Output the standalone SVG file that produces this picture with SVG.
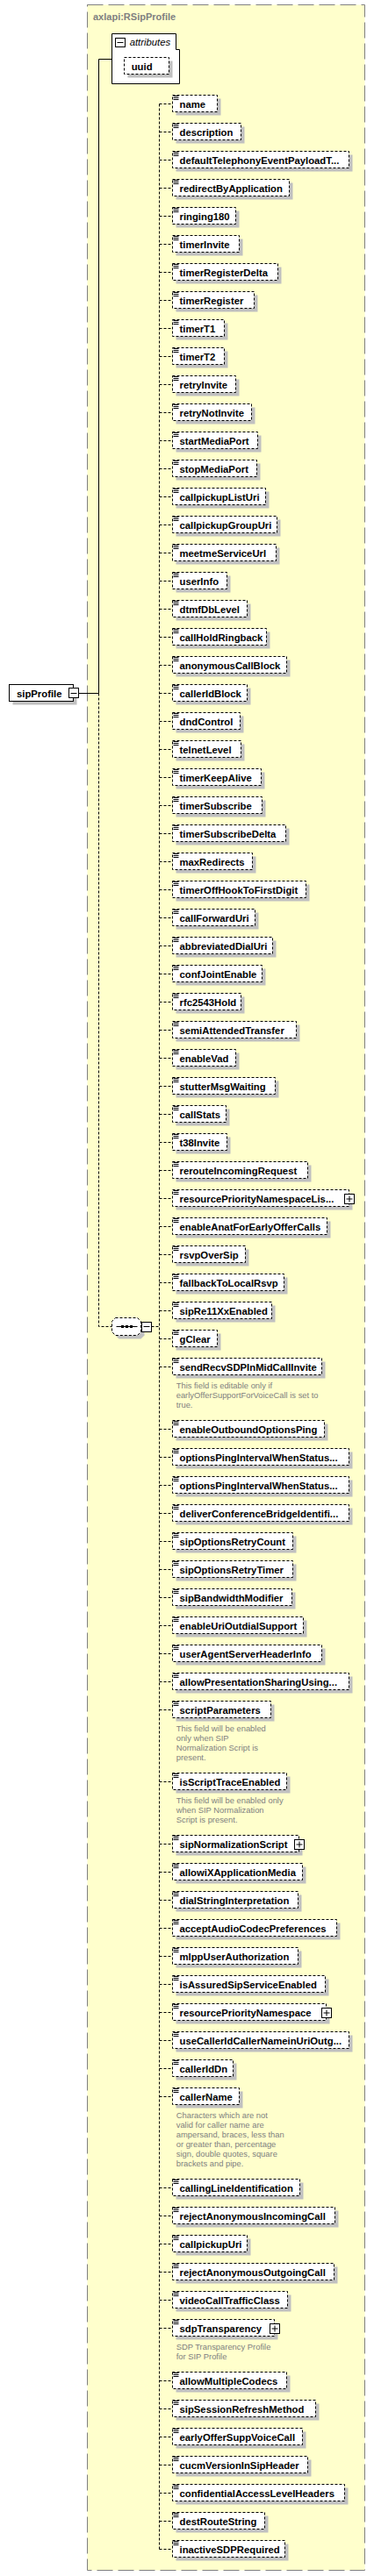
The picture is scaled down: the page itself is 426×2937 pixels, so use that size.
<svg xmlns="http://www.w3.org/2000/svg" width="426" height="2937" viewBox="0 0 426 2937">
<style>
.s{fill:#c0c0c0}
.b{fill:#fff;stroke:#000;stroke-dasharray:3 2}
.i{stroke:#000;fill:none}
.t{font-family:"Liberation Sans",Arial,sans-serif;font-weight:bold;font-size:11.3px;fill:#000}
.a{font-family:"Liberation Sans",Arial,sans-serif;font-size:9.4px;fill:#808080}
.c{fill:none;stroke:#000;stroke-dasharray:3 2}
.sl{fill:none;stroke:#000}
.bx{fill:#fff;stroke:#000}
</style>
<rect width="426" height="2937" fill="#fff"/>
<g id="type-container">
<rect x="99.5" y="5.5" width="316" height="2925" fill="#ffffcc" stroke="#808080" stroke-dasharray="18 6"/>
<text x="106" y="22.5" font-family="Liberation Sans, Arial, sans-serif" font-weight="bold" font-size="11px" fill="#808080">axlapi:RSipProfile</text>
</g>
<g id="connectors">
<path class="sl" d="M89.5 790.5H112.5M112.5 67.5V790.5M112.5 67.5H127.5"/>
<path class="c" d="M112.5 790.5V1512.5H127.5M172.5 1512.5H181.5"/>
<path class="c" d="M181.5 118.5V2906.5M181.5 118.5h15M181.5 150.5h15M181.5 182.5h15M181.5 214.5h15M181.5 246.5h15M181.5 278.5h15M181.5 310.5h15M181.5 342.5h15M181.5 374.5h15M181.5 406.5h15M181.5 438.5h15M181.5 470.5h15M181.5 502.5h15M181.5 534.5h15M181.5 566.5h15M181.5 598.5h15M181.5 630.5h15M181.5 662.5h15M181.5 694.5h15M181.5 726.5h15M181.5 758.5h15M181.5 790.5h15M181.5 822.5h15M181.5 854.5h15M181.5 886.5h15M181.5 918.5h15M181.5 950.5h15M181.5 982.5h15M181.5 1014.5h15M181.5 1046.5h15M181.5 1078.5h15M181.5 1110.5h15M181.5 1142.5h15M181.5 1174.5h15M181.5 1206.5h15M181.5 1238.5h15M181.5 1270.5h15M181.5 1302.5h15M181.5 1334.5h15M181.5 1366.5h15M181.5 1398.5h15M181.5 1430.5h15M181.5 1462.5h15M181.5 1494.5h15M181.5 1526.5h15M181.5 1558.5h15M181.5 1629.5h15M181.5 1661.5h15M181.5 1693.5h15M181.5 1725.5h15M181.5 1757.5h15M181.5 1789.5h15M181.5 1821.5h15M181.5 1853.5h15M181.5 1885.5h15M181.5 1917.5h15M181.5 1949.5h15M181.5 2031.5h15M181.5 2102.5h15M181.5 2134.5h15M181.5 2166.5h15M181.5 2198.5h15M181.5 2230.5h15M181.5 2262.5h15M181.5 2294.5h15M181.5 2326.5h15M181.5 2358.5h15M181.5 2390.5h15M181.5 2494.5h15M181.5 2526.5h15M181.5 2558.5h15M181.5 2590.5h15M181.5 2622.5h15M181.5 2654.5h15M181.5 2714.5h15M181.5 2746.5h15M181.5 2778.5h15M181.5 2810.5h15M181.5 2842.5h15M181.5 2874.5h15M181.5 2906.5h15"/>
</g>
<g id="sipProfile">
<rect class="s" x="14.5" y="784.5" width="73" height="19"/>
<rect class="bx" x="10.5" y="780.5" width="73" height="19"/>
<text class="t" x="19" y="794.5">sipProfile</text>
<rect class="bx" x="78.5" y="784.5" width="11" height="11"/>
<path class="sl" d="M80.5 790.5H87.5"/>
</g>
<g id="attributes">
<path class="bx" d="M127.5 38.5H200.5V56.5H204.5V95.5H127.5Z"/>
<rect class="bx" x="131.5" y="43.5" width="11" height="10"/>
<path class="sl" d="M133.5 48.5H140.5"/>
<text x="147.7" y="52" font-family="Liberation Sans, Arial, sans-serif" font-style="italic" font-size="11.3px">attributes</text>
</g>
<g id="uuid">
<rect class="s" x="145.5" y="69.5" width="51" height="19"/>
<rect class="b" x="141.5" y="65.5" width="51" height="19"/>
<text class="t" x="149.7" y="79.5">uuid</text>
</g>
<g id="sequence">
<path class="s" d="M135.5 1506.5H160.5L164.5 1510.5V1522.5L160.5 1526.5H135.5L131.5 1522.5V1510.5Z"/>
<path class="b" d="M131.5 1502.5H156.5L160.5 1506.5V1518.5L156.5 1522.5H131.5L127.5 1518.5V1506.5Z"/>
<path class="sl" d="M132.5 1512.5H156.5"/>
<rect x="138" y="1511" width="3" height="3"/>
<rect x="143" y="1511" width="3" height="3"/>
<rect x="148" y="1511" width="3" height="3"/>
<rect class="bx" x="161.5" y="1507.5" width="11" height="11"/>
<path class="sl" d="M163.5 1512.5H170.5"/>
</g>
<g id="e01" transform="translate(196.5,108.5)"><rect class="s" x="4" y="4" width="51" height="19"/><rect class="b" width="51" height="19"/><path class="i" d="M1 1h6M1 3h6M1 5h6"/><text class="t" x="8" y="14">name</text></g>
<g id="e02" transform="translate(196.5,140.5)"><rect class="s" x="4" y="4" width="78" height="19"/><rect class="b" width="78" height="19"/><path class="i" d="M1 1h6M1 3h6M1 5h6"/><text class="t" x="8" y="14">description</text></g>
<g id="e03" transform="translate(196.5,172.5)"><rect class="s" x="4" y="4" width="201" height="19"/><rect class="b" width="201" height="19"/><path class="i" d="M1 1h6M1 3h6M1 5h6"/><text class="t" x="8" y="14">defaultTelephonyEventPayloadT...</text></g>
<g id="e04" transform="translate(196.5,204.5)"><rect class="s" x="4" y="4" width="133" height="19"/><rect class="b" width="133" height="19"/><path class="i" d="M1 1h6M1 3h6M1 5h6"/><text class="t" x="8" y="14">redirectByApplication</text></g>
<g id="e05" transform="translate(196.5,236.5)"><rect class="s" x="4" y="4" width="72" height="19"/><rect class="b" width="72" height="19"/><path class="i" d="M1 1h6M1 3h6M1 5h6"/><text class="t" x="8" y="14">ringing180</text></g>
<g id="e06" transform="translate(196.5,268.5)"><rect class="s" x="4" y="4" width="76" height="19"/><rect class="b" width="76" height="19"/><path class="i" d="M1 1h6M1 3h6M1 5h6"/><text class="t" x="8" y="14">timerInvite</text></g>
<g id="e07" transform="translate(196.5,300.5)"><rect class="s" x="4" y="4" width="120" height="19"/><rect class="b" width="120" height="19"/><path class="i" d="M1 1h6M1 3h6M1 5h6"/><text class="t" x="8" y="14">timerRegisterDelta</text></g>
<g id="e08" transform="translate(196.5,332.5)"><rect class="s" x="4" y="4" width="93" height="19"/><rect class="b" width="93" height="19"/><path class="i" d="M1 1h6M1 3h6M1 5h6"/><text class="t" x="8" y="14">timerRegister</text></g>
<g id="e09" transform="translate(196.5,364.5)"><rect class="s" x="4" y="4" width="59" height="19"/><rect class="b" width="59" height="19"/><path class="i" d="M1 1h6M1 3h6M1 5h6"/><text class="t" x="8" y="14">timerT1</text></g>
<g id="e10" transform="translate(196.5,396.5)"><rect class="s" x="4" y="4" width="59" height="19"/><rect class="b" width="59" height="19"/><path class="i" d="M1 1h6M1 3h6M1 5h6"/><text class="t" x="8" y="14">timerT2</text></g>
<g id="e11" transform="translate(196.5,428.5)"><rect class="s" x="4" y="4" width="72" height="19"/><rect class="b" width="72" height="19"/><path class="i" d="M1 1h6M1 3h6M1 5h6"/><text class="t" x="8" y="14">retryInvite</text></g>
<g id="e12" transform="translate(196.5,460.5)"><rect class="s" x="4" y="4" width="90" height="19"/><rect class="b" width="90" height="19"/><path class="i" d="M1 1h6M1 3h6M1 5h6"/><text class="t" x="8" y="14">retryNotInvite</text></g>
<g id="e13" transform="translate(196.5,492.5)"><rect class="s" x="4" y="4" width="97" height="19"/><rect class="b" width="97" height="19"/><path class="i" d="M1 1h6M1 3h6M1 5h6"/><text class="t" x="8" y="14">startMediaPort</text></g>
<g id="e14" transform="translate(196.5,524.5)"><rect class="s" x="4" y="4" width="96" height="19"/><rect class="b" width="96" height="19"/><path class="i" d="M1 1h6M1 3h6M1 5h6"/><text class="t" x="8" y="14">stopMediaPort</text></g>
<g id="e15" transform="translate(196.5,556.5)"><rect class="s" x="4" y="4" width="106" height="19"/><rect class="b" width="106" height="19"/><path class="i" d="M1 1h6M1 3h6M1 5h6"/><text class="t" x="8" y="14">callpickupListUri</text></g>
<g id="e16" transform="translate(196.5,588.5)"><rect class="s" x="4" y="4" width="119" height="19"/><rect class="b" width="119" height="19"/><path class="i" d="M1 1h6M1 3h6M1 5h6"/><text class="t" x="8" y="14">callpickupGroupUri</text></g>
<g id="e17" transform="translate(196.5,620.5)"><rect class="s" x="4" y="4" width="118" height="19"/><rect class="b" width="118" height="19"/><path class="i" d="M1 1h6M1 3h6M1 5h6"/><text class="t" x="8" y="14">meetmeServiceUrl</text></g>
<g id="e18" transform="translate(196.5,652.5)"><rect class="s" x="4" y="4" width="62" height="19"/><rect class="b" width="62" height="19"/><path class="i" d="M1 1h6M1 3h6M1 5h6"/><text class="t" x="8" y="14">userInfo</text></g>
<g id="e19" transform="translate(196.5,684.5)"><rect class="s" x="4" y="4" width="85" height="19"/><rect class="b" width="85" height="19"/><path class="i" d="M1 1h6M1 3h6M1 5h6"/><text class="t" x="8" y="14">dtmfDbLevel</text></g>
<g id="e20" transform="translate(196.5,716.5)"><rect class="s" x="4" y="4" width="107" height="19"/><rect class="b" width="107" height="19"/><path class="i" d="M1 1h6M1 3h6M1 5h6"/><text class="t" x="8" y="14">callHoldRingback</text></g>
<g id="e21" transform="translate(196.5,748.5)"><rect class="s" x="4" y="4" width="130" height="19"/><rect class="b" width="130" height="19"/><path class="i" d="M1 1h6M1 3h6M1 5h6"/><text class="t" x="8" y="14">anonymousCallBlock</text></g>
<g id="e22" transform="translate(196.5,780.5)"><rect class="s" x="4" y="4" width="85" height="19"/><rect class="b" width="85" height="19"/><path class="i" d="M1 1h6M1 3h6M1 5h6"/><text class="t" x="8" y="14">callerIdBlock</text></g>
<g id="e23" transform="translate(196.5,812.5)"><rect class="s" x="4" y="4" width="77" height="19"/><rect class="b" width="77" height="19"/><path class="i" d="M1 1h6M1 3h6M1 5h6"/><text class="t" x="8" y="14">dndControl</text></g>
<g id="e24" transform="translate(196.5,844.5)"><rect class="s" x="4" y="4" width="78" height="19"/><rect class="b" width="78" height="19"/><path class="i" d="M1 1h6M1 3h6M1 5h6"/><text class="t" x="8" y="14">telnetLevel</text></g>
<g id="e25" transform="translate(196.5,876.5)"><rect class="s" x="4" y="4" width="101" height="19"/><rect class="b" width="101" height="19"/><path class="i" d="M1 1h6M1 3h6M1 5h6"/><text class="t" x="8" y="14">timerKeepAlive</text></g>
<g id="e26" transform="translate(196.5,908.5)"><rect class="s" x="4" y="4" width="102" height="19"/><rect class="b" width="102" height="19"/><path class="i" d="M1 1h6M1 3h6M1 5h6"/><text class="t" x="8" y="14">timerSubscribe</text></g>
<g id="e27" transform="translate(196.5,940.5)"><rect class="s" x="4" y="4" width="129" height="19"/><rect class="b" width="129" height="19"/><path class="i" d="M1 1h6M1 3h6M1 5h6"/><text class="t" x="8" y="14">timerSubscribeDelta</text></g>
<g id="e28" transform="translate(196.5,972.5)"><rect class="s" x="4" y="4" width="91" height="19"/><rect class="b" width="91" height="19"/><path class="i" d="M1 1h6M1 3h6M1 5h6"/><text class="t" x="8" y="14">maxRedirects</text></g>
<g id="e29" transform="translate(196.5,1004.5)"><rect class="s" x="4" y="4" width="152" height="19"/><rect class="b" width="152" height="19"/><path class="i" d="M1 1h6M1 3h6M1 5h6"/><text class="t" x="8" y="14">timerOffHookToFirstDigit</text></g>
<g id="e30" transform="translate(196.5,1036.5)"><rect class="s" x="4" y="4" width="94" height="19"/><rect class="b" width="94" height="19"/><path class="i" d="M1 1h6M1 3h6M1 5h6"/><text class="t" x="8" y="14">callForwardUri</text></g>
<g id="e31" transform="translate(196.5,1068.5)"><rect class="s" x="4" y="4" width="114" height="19"/><rect class="b" width="114" height="19"/><path class="i" d="M1 1h6M1 3h6M1 5h6"/><text class="t" x="8" y="14">abbreviatedDialUri</text></g>
<g id="e32" transform="translate(196.5,1100.5)"><rect class="s" x="4" y="4" width="102" height="19"/><rect class="b" width="102" height="19"/><path class="i" d="M1 1h6M1 3h6M1 5h6"/><text class="t" x="8" y="14">confJointEnable</text></g>
<g id="e33" transform="translate(196.5,1132.5)"><rect class="s" x="4" y="4" width="78" height="19"/><rect class="b" width="78" height="19"/><path class="i" d="M1 1h6M1 3h6M1 5h6"/><text class="t" x="8" y="14">rfc2543Hold</text></g>
<g id="e34" transform="translate(196.5,1164.5)"><rect class="s" x="4" y="4" width="141" height="19"/><rect class="b" width="141" height="19"/><path class="i" d="M1 1h6M1 3h6M1 5h6"/><text class="t" x="8" y="14">semiAttendedTransfer</text></g>
<g id="e35" transform="translate(196.5,1196.5)"><rect class="s" x="4" y="4" width="72" height="19"/><rect class="b" width="72" height="19"/><path class="i" d="M1 1h6M1 3h6M1 5h6"/><text class="t" x="8" y="14">enableVad</text></g>
<g id="e36" transform="translate(196.5,1228.5)"><rect class="s" x="4" y="4" width="117" height="19"/><rect class="b" width="117" height="19"/><path class="i" d="M1 1h6M1 3h6M1 5h6"/><text class="t" x="8" y="14">stutterMsgWaiting</text></g>
<g id="e37" transform="translate(196.5,1260.5)"><rect class="s" x="4" y="4" width="61" height="19"/><rect class="b" width="61" height="19"/><path class="i" d="M1 1h6M1 3h6M1 5h6"/><text class="t" x="8" y="14">callStats</text></g>
<g id="e38" transform="translate(196.5,1292.5)"><rect class="s" x="4" y="4" width="62" height="19"/><rect class="b" width="62" height="19"/><path class="i" d="M1 1h6M1 3h6M1 5h6"/><text class="t" x="8" y="14">t38Invite</text></g>
<g id="e39" transform="translate(196.5,1324.5)"><rect class="s" x="4" y="4" width="154" height="19"/><rect class="b" width="154" height="19"/><path class="i" d="M1 1h6M1 3h6M1 5h6"/><text class="t" x="8" y="14">rerouteIncomingRequest</text></g>
<g id="e40" transform="translate(196.5,1356.5)"><rect class="s" x="4" y="4" width="201" height="19"/><rect class="b" width="201" height="19"/><path class="i" d="M1 1h6M1 3h6M1 5h6"/><text class="t" x="8" y="14">resourcePriorityNamespaceLis...</text><rect class="bx" x="196" y="5" width="11" height="11"/><path class="sl" d="M198 10.5h7M201.5 7v7"/></g>
<g id="e41" transform="translate(196.5,1388.5)"><rect class="s" x="4" y="4" width="176" height="19"/><rect class="b" width="176" height="19"/><path class="i" d="M1 1h6M1 3h6M1 5h6"/><text class="t" x="8" y="14">enableAnatForEarlyOfferCalls</text></g>
<g id="e42" transform="translate(196.5,1420.5)"><rect class="s" x="4" y="4" width="83" height="19"/><rect class="b" width="83" height="19"/><path class="i" d="M1 1h6M1 3h6M1 5h6"/><text class="t" x="8" y="14">rsvpOverSip</text></g>
<g id="e43" transform="translate(196.5,1452.5)"><rect class="s" x="4" y="4" width="127" height="19"/><rect class="b" width="127" height="19"/><path class="i" d="M1 1h6M1 3h6M1 5h6"/><text class="t" x="8" y="14">fallbackToLocalRsvp</text></g>
<g id="e44" transform="translate(196.5,1484.5)"><rect class="s" x="4" y="4" width="113" height="19"/><rect class="b" width="113" height="19"/><path class="i" d="M1 1h6M1 3h6M1 5h6"/><text class="t" x="8" y="14">sipRe11XxEnabled</text></g>
<g id="e45" transform="translate(196.5,1516.5)"><rect class="s" x="4" y="4" width="51" height="19"/><rect class="b" width="51" height="19"/><path class="i" d="M1 1h6M1 3h6M1 5h6"/><text class="t" x="8" y="14">gClear</text></g>
<g id="e46" transform="translate(196.5,1548.5)"><rect class="s" x="4" y="4" width="170" height="19"/><rect class="b" width="170" height="19"/><path class="i" d="M1 1h6M1 3h6M1 5h6"/><text class="t" x="8" y="14">sendRecvSDPInMidCallInvite</text><text class="a" x="4.2" y="34">This field is editable only if</text><text class="a" x="4.2" y="45">earlyOfferSupportForVoiceCall is set to</text><text class="a" x="4.2" y="56">true.</text></g>
<g id="e47" transform="translate(196.5,1619.5)"><rect class="s" x="4" y="4" width="173" height="19"/><rect class="b" width="173" height="19"/><path class="i" d="M1 1h6M1 3h6M1 5h6"/><text class="t" x="8" y="14">enableOutboundOptionsPing</text></g>
<g id="e48" transform="translate(196.5,1651.5)"><rect class="s" x="4" y="4" width="201" height="19"/><rect class="b" width="201" height="19"/><path class="i" d="M1 1h6M1 3h6M1 5h6"/><text class="t" x="8" y="14">optionsPingIntervalWhenStatus...</text></g>
<g id="e49" transform="translate(196.5,1683.5)"><rect class="s" x="4" y="4" width="201" height="19"/><rect class="b" width="201" height="19"/><path class="i" d="M1 1h6M1 3h6M1 5h6"/><text class="t" x="8" y="14">optionsPingIntervalWhenStatus...</text></g>
<g id="e50" transform="translate(196.5,1715.5)"><rect class="s" x="4" y="4" width="201" height="19"/><rect class="b" width="201" height="19"/><path class="i" d="M1 1h6M1 3h6M1 5h6"/><text class="t" x="8" y="14">deliverConferenceBridgeIdentifi...</text></g>
<g id="e51" transform="translate(196.5,1747.5)"><rect class="s" x="4" y="4" width="137" height="19"/><rect class="b" width="137" height="19"/><path class="i" d="M1 1h6M1 3h6M1 5h6"/><text class="t" x="8" y="14">sipOptionsRetryCount</text></g>
<g id="e52" transform="translate(196.5,1779.5)"><rect class="s" x="4" y="4" width="137" height="19"/><rect class="b" width="137" height="19"/><path class="i" d="M1 1h6M1 3h6M1 5h6"/><text class="t" x="8" y="14">sipOptionsRetryTimer</text></g>
<g id="e53" transform="translate(196.5,1811.5)"><rect class="s" x="4" y="4" width="136" height="19"/><rect class="b" width="136" height="19"/><path class="i" d="M1 1h6M1 3h6M1 5h6"/><text class="t" x="8" y="14">sipBandwidthModifier</text></g>
<g id="e54" transform="translate(196.5,1843.5)"><rect class="s" x="4" y="4" width="149" height="19"/><rect class="b" width="149" height="19"/><path class="i" d="M1 1h6M1 3h6M1 5h6"/><text class="t" x="8" y="14">enableUriOutdialSupport</text></g>
<g id="e55" transform="translate(196.5,1875.5)"><rect class="s" x="4" y="4" width="170" height="19"/><rect class="b" width="170" height="19"/><path class="i" d="M1 1h6M1 3h6M1 5h6"/><text class="t" x="8" y="14">userAgentServerHeaderInfo</text></g>
<g id="e56" transform="translate(196.5,1907.5)"><rect class="s" x="4" y="4" width="201" height="19"/><rect class="b" width="201" height="19"/><path class="i" d="M1 1h6M1 3h6M1 5h6"/><text class="t" x="8" y="14">allowPresentationSharingUsing...</text></g>
<g id="e57" transform="translate(196.5,1939.5)"><rect class="s" x="4" y="4" width="112" height="19"/><rect class="b" width="112" height="19"/><path class="i" d="M1 1h6M1 3h6M1 5h6"/><text class="t" x="8" y="14">scriptParameters</text><text class="a" x="4.2" y="34">This field will be enabled</text><text class="a" x="4.2" y="45">only when SIP</text><text class="a" x="4.2" y="56">Normalization Script is</text><text class="a" x="4.2" y="67">present.</text></g>
<g id="e58" transform="translate(196.5,2021.5)"><rect class="s" x="4" y="4" width="130" height="19"/><rect class="b" width="130" height="19"/><path class="i" d="M1 1h6M1 3h6M1 5h6"/><text class="t" x="8" y="14">isScriptTraceEnabled</text><text class="a" x="4.2" y="34">This field will be enabled only</text><text class="a" x="4.2" y="45">when SIP Normalization</text><text class="a" x="4.2" y="56">Script is present.</text></g>
<g id="e59" transform="translate(196.5,2092.5)"><rect class="s" x="4" y="4" width="144" height="19"/><rect class="b" width="144" height="19"/><path class="i" d="M1 1h6M1 3h6M1 5h6"/><text class="t" x="8" y="14">sipNormalizationScript</text><rect class="bx" x="139" y="5" width="11" height="11"/><path class="sl" d="M141 10.5h7M144.5 7v7"/></g>
<g id="e60" transform="translate(196.5,2124.5)"><rect class="s" x="4" y="4" width="148" height="19"/><rect class="b" width="148" height="19"/><path class="i" d="M1 1h6M1 3h6M1 5h6"/><text class="t" x="8" y="14">allowiXApplicationMedia</text></g>
<g id="e61" transform="translate(196.5,2156.5)"><rect class="s" x="4" y="4" width="143" height="19"/><rect class="b" width="143" height="19"/><path class="i" d="M1 1h6M1 3h6M1 5h6"/><text class="t" x="8" y="14">dialStringInterpretation</text></g>
<g id="e62" transform="translate(196.5,2188.5)"><rect class="s" x="4" y="4" width="187" height="19"/><rect class="b" width="187" height="19"/><path class="i" d="M1 1h6M1 3h6M1 5h6"/><text class="t" x="8" y="14">acceptAudioCodecPreferences</text></g>
<g id="e63" transform="translate(196.5,2220.5)"><rect class="s" x="4" y="4" width="143" height="19"/><rect class="b" width="143" height="19"/><path class="i" d="M1 1h6M1 3h6M1 5h6"/><text class="t" x="8" y="14">mlppUserAuthorization</text></g>
<g id="e64" transform="translate(196.5,2252.5)"><rect class="s" x="4" y="4" width="174" height="19"/><rect class="b" width="174" height="19"/><path class="i" d="M1 1h6M1 3h6M1 5h6"/><text class="t" x="8" y="14">isAssuredSipServiceEnabled</text></g>
<g id="e65" transform="translate(196.5,2284.5)"><rect class="s" x="4" y="4" width="175" height="19"/><rect class="b" width="175" height="19"/><path class="i" d="M1 1h6M1 3h6M1 5h6"/><text class="t" x="8" y="14">resourcePriorityNamespace</text><rect class="bx" x="170" y="5" width="11" height="11"/><path class="sl" d="M172 10.5h7M175.5 7v7"/></g>
<g id="e66" transform="translate(196.5,2316.5)"><rect class="s" x="4" y="4" width="201" height="19"/><rect class="b" width="201" height="19"/><path class="i" d="M1 1h6M1 3h6M1 5h6"/><text class="t" x="8" y="14">useCallerIdCallerNameinUriOutg...</text></g>
<g id="e67" transform="translate(196.5,2348.5)"><rect class="s" x="4" y="4" width="69" height="19"/><rect class="b" width="69" height="19"/><path class="i" d="M1 1h6M1 3h6M1 5h6"/><text class="t" x="8" y="14">callerIdDn</text></g>
<g id="e68" transform="translate(196.5,2380.5)"><rect class="s" x="4" y="4" width="76" height="19"/><rect class="b" width="76" height="19"/><path class="i" d="M1 1h6M1 3h6M1 5h6"/><text class="t" x="8" y="14">callerName</text><text class="a" x="4.2" y="34">Characters which are not</text><text class="a" x="4.2" y="45">valid for caller name are</text><text class="a" x="4.2" y="56">ampersand, braces, less than</text><text class="a" x="4.2" y="67">or greater than, percentage</text><text class="a" x="4.2" y="78">sign, double quotes, square</text><text class="a" x="4.2" y="89">brackets and pipe.</text></g>
<g id="e69" transform="translate(196.5,2484.5)"><rect class="s" x="4" y="4" width="145" height="19"/><rect class="b" width="145" height="19"/><path class="i" d="M1 1h6M1 3h6M1 5h6"/><text class="t" x="8" y="14">callingLineIdentification</text></g>
<g id="e70" transform="translate(196.5,2516.5)"><rect class="s" x="4" y="4" width="185" height="19"/><rect class="b" width="185" height="19"/><path class="i" d="M1 1h6M1 3h6M1 5h6"/><text class="t" x="8" y="14">rejectAnonymousIncomingCall</text></g>
<g id="e71" transform="translate(196.5,2548.5)"><rect class="s" x="4" y="4" width="85" height="19"/><rect class="b" width="85" height="19"/><path class="i" d="M1 1h6M1 3h6M1 5h6"/><text class="t" x="8" y="14">callpickupUri</text></g>
<g id="e72" transform="translate(196.5,2580.5)"><rect class="s" x="4" y="4" width="184" height="19"/><rect class="b" width="184" height="19"/><path class="i" d="M1 1h6M1 3h6M1 5h6"/><text class="t" x="8" y="14">rejectAnonymousOutgoingCall</text></g>
<g id="e73" transform="translate(196.5,2612.5)"><rect class="s" x="4" y="4" width="131" height="19"/><rect class="b" width="131" height="19"/><path class="i" d="M1 1h6M1 3h6M1 5h6"/><text class="t" x="8" y="14">videoCallTrafficClass</text></g>
<g id="e74" transform="translate(196.5,2644.5)"><rect class="s" x="4" y="4" width="116" height="19"/><rect class="b" width="116" height="19"/><path class="i" d="M1 1h6M1 3h6M1 5h6"/><text class="t" x="8" y="14">sdpTransparency</text><rect class="bx" x="111" y="5" width="11" height="11"/><path class="sl" d="M113 10.5h7M116.5 7v7"/><text class="a" x="4.2" y="34">SDP Transparency Profile</text><text class="a" x="4.2" y="45">for SIP Profile</text></g>
<g id="e75" transform="translate(196.5,2704.5)"><rect class="s" x="4" y="4" width="130" height="19"/><rect class="b" width="130" height="19"/><path class="i" d="M1 1h6M1 3h6M1 5h6"/><text class="t" x="8" y="14">allowMultipleCodecs</text></g>
<g id="e76" transform="translate(196.5,2736.5)"><rect class="s" x="4" y="4" width="163" height="19"/><rect class="b" width="163" height="19"/><path class="i" d="M1 1h6M1 3h6M1 5h6"/><text class="t" x="8" y="14">sipSessionRefreshMethod</text></g>
<g id="e77" transform="translate(196.5,2768.5)"><rect class="s" x="4" y="4" width="148" height="19"/><rect class="b" width="148" height="19"/><path class="i" d="M1 1h6M1 3h6M1 5h6"/><text class="t" x="8" y="14">earlyOfferSuppVoiceCall</text></g>
<g id="e78" transform="translate(196.5,2800.5)"><rect class="s" x="4" y="4" width="154" height="19"/><rect class="b" width="154" height="19"/><path class="i" d="M1 1h6M1 3h6M1 5h6"/><text class="t" x="8" y="14">cucmVersionInSipHeader</text></g>
<g id="e79" transform="translate(196.5,2832.5)"><rect class="s" x="4" y="4" width="196" height="19"/><rect class="b" width="196" height="19"/><path class="i" d="M1 1h6M1 3h6M1 5h6"/><text class="t" x="8" y="14">confidentialAccessLevelHeaders</text></g>
<g id="e80" transform="translate(196.5,2864.5)"><rect class="s" x="4" y="4" width="105" height="19"/><rect class="b" width="105" height="19"/><path class="i" d="M1 1h6M1 3h6M1 5h6"/><text class="t" x="8" y="14">destRouteString</text></g>
<g id="e81" transform="translate(196.5,2896.5)"><rect class="s" x="4" y="4" width="128" height="19"/><rect class="b" width="128" height="19"/><path class="i" d="M1 1h6M1 3h6M1 5h6"/><text class="t" x="8" y="14">inactiveSDPRequired</text></g>
</svg>
